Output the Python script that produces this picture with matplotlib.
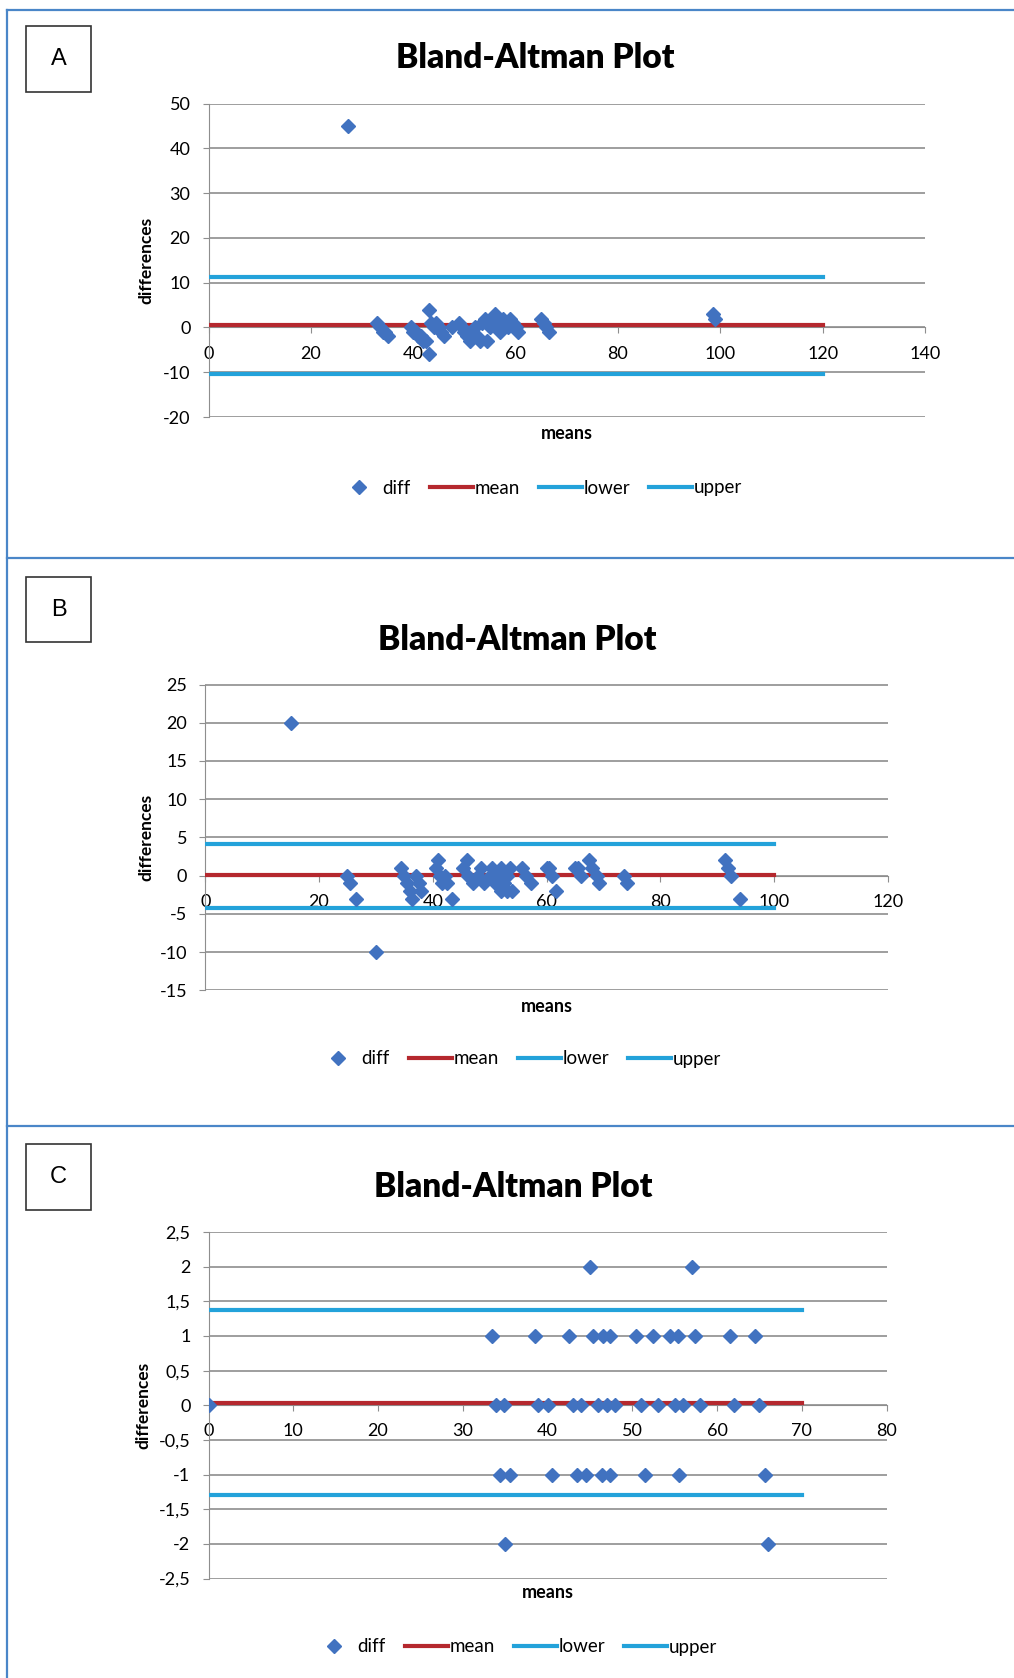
import matplotlib
matplotlib.use("Agg")
import matplotlib.pyplot as plt
from matplotlib.lines import Line2D
from matplotlib.patches import Rectangle
from matplotlib.ticker import FuncFormatter

plt.rcParams['font.family'] = ['Lato', 'DejaVu Sans']
plt.rcParams['axes.unicode_minus'] = False

W, H = 1014, 1678

#
# panel A data
A_means = [27.3,
           33.0, 33.5, 34.0, 34.5, 35.0,
           39.5, 40.0, 40.5, 41.0, 41.5, 42.0, 42.5, 43.0, 43.0, 43.5, 44.0, 44.5, 45.0, 45.5, 46.0,
           47.5, 49.0, 49.5, 50.0, 50.5, 51.0, 51.5, 52.0, 52.5, 53.0, 53.5, 54.0, 54.5, 55.0,
           55.5, 56.0, 56.5, 57.0, 57.5, 58.0, 58.5, 59.0, 59.5, 60.0, 60.5,
           65.0, 65.5, 66.0, 66.5,
           98.5, 99.0]
A_diffs = [45,
           1, 0, -1, -1, -2,
           0, -1, -1, -2, -2, -3, -3, -6, 4, 1, 0, 1, 0, -1, -2,
           0, 1, 0, -1, -2, -3, -1, 0, -2, -3, 1, 2, -3, 0,
           2, 3, 1, -1, 2, 1, 0, 2, 1, 0, -1,
           2, 1, 0, -1,
           3, 2]
A_mean, A_lower, A_upper = 0.5, -10.3, 11.3

#
# panel B data
B_means = [15, 25, 25.5, 26.5, 30,
           34.5, 35, 35.5, 36, 36.3, 37, 37.5, 38,
           40.5, 41, 41.3, 41.6, 42.2, 42.5, 43.4,
           45.4, 46, 46.2, 47, 48, 48.5, 49, 50, 50.5, 51, 51.5, 52, 52, 52.5, 53, 53, 53.5, 54,
           55.7, 56.4, 57.2, 60, 60.5, 61, 61.7,
           65, 65.5, 66, 67.5, 68, 68.8, 69.3, 73.6, 74.2,
           91.4, 92, 92.5, 94]
B_diffs = [20, 0, -1, -3, -10,
           1, 0, -1, -2, -3, 0, -1, -2,
           1, 2, 0, -1, 0, -1, -3,
           1, 2, 0, -1, 0, 1, -1, 0, 1, -1, 0, -2, 1, -1, 0, -2, 1, -2,
           1, 0, -1, 1, 1, 0, -2,
           1, 1, 0, 2, 1, 0, -1, 0, -1,
           2, 1, 0, -3]
B_mean, B_lower, B_upper = 0.05, -4.2, 4.15

#
# panel C data
C_means = [45, 57,
           33.4, 38.5, 42.5, 45.4, 46.5, 47.4, 50.4, 52.4, 54.4, 55.4, 57.4, 61.5, 64.5,
           0, 33.9, 34.9, 38.9, 40, 43, 44, 46, 47, 48, 51, 53, 55, 56, 58, 62, 65,
           34.4, 35.6, 40.5, 43.5, 44.5, 46.4, 47.4, 51.5, 55.5, 65.6,
           35, 66]
C_diffs = [2, 2,
           1, 1, 1, 1, 1, 1, 1, 1, 1, 1, 1, 1, 1,
           0, 0, 0, 0, 0, 0, 0, 0, 0, 0, 0, 0, 0, 0, 0, 0, 0,
           -1, -1, -1, -1, -1, -1, -1, -1, -1, -1,
           -2, -2]
C_mean, C_lower, C_upper = 0.03, -1.3, 1.38

legend_labels = ["diff", "mean", "lower", "upper"]

BLUE_PT = "#4172C0"
RED = "#B5282E"
LBLUE = "#23A2DA"
GRID = "#8E8E8E"
FRAME = "#4A86C8"


def px_rect(l, t, r, b):
    return [l / W, 1 - b / H, (r - l) / W, (b - t) / H]


def draw_panel(ax, means, diffs, mean, lower, upper, line_end,
               xmax, xstep, ymin, ymax, ystep, comma=False):
    ax.plot([0, line_end], [lower, lower], color=LBLUE, lw=3, zorder=3)
    ax.plot([0, line_end], [upper, upper], color=LBLUE, lw=3, zorder=3)
    ax.plot([0, line_end], [mean, mean], color=RED, lw=3, zorder=3)
    ax.plot(means, diffs, ls='none', marker='D', ms=7, color=BLUE_PT, zorder=4)

    ax.set_xlim(0, xmax)
    ax.set_ylim(ymin, ymax)
    ax.set_xticks(range(0, xmax + 1, xstep))
    yt = []
    v = ymin
    while v <= ymax + 1e-9:
        yt.append(round(v, 2))
        v += ystep
    ax.set_yticks(yt)
    if comma:
        ax.yaxis.set_major_formatter(FuncFormatter(
            lambda x, p: ('%g' % x).replace('.', ',')))

    ax.spines['top'].set_visible(False)
    ax.spines['right'].set_visible(False)
    ax.spines['bottom'].set_position(('data', 0))
    ax.spines['bottom'].set_color(GRID)
    ax.spines['left'].set_color(GRID)
    ax.yaxis.grid(True, color=GRID, lw=1.2)
    ax.set_axisbelow(True)
    ax.tick_params(axis='both', colors=GRID, labelcolor='black', labelsize=13,
                   direction='out', length=4)
    ax.tick_params(axis='x', pad=9)
    ax.tick_params(axis='y', pad=9)


fig = plt.figure(figsize=(W / 100, H / 100), dpi=100)

panels = [
    ("A", A_means, A_diffs, A_mean, A_lower, A_upper, 120, 140, 20, -20, 50, 10, False,
     (208.5, 103.7, 925, 417), (535, 58), (26, 26, 91, 92), 146.5, 433, (540, 488)),
    ("B", B_means, B_diffs, B_mean, B_lower, B_upper, 100, 120, 20, -15, 25, 5, False,
     (205.3, 684.5, 887.7, 990.4), (517, 640), (26, 577, 91, 642), 146.5, 1006, (519, 1059)),
    ("C", C_means, C_diffs, C_mean, C_lower, C_upper, 70, 80, 10, -2.5, 2.5, 0.5, True,
     (208.5, 1232, 886.6, 1578.6), (513, 1187), (26, 1144, 91, 1210), 143, 1593, (515, 1647)),
]

for (letter, means, diffs, mean, lower, upper, line_end, xmax, xstep, ymin, ymax, ystep, comma,
     rect, title_xy, box, ylab_x, xlab_y, leg_xy) in panels:
    ax = fig.add_axes(px_rect(*rect))
    draw_panel(ax, means, diffs, mean, lower, upper, line_end,
               xmax, xstep, ymin, ymax, ystep, comma)

    fig.text(title_xy[0] / W, 1 - title_xy[1] / H, "Bland-Altman Plot",
             ha='center', va='center', fontsize=24, fontweight='heavy')
    cx = (rect[0] + rect[2]) / 2
    cy = (rect[1] + rect[3]) / 2
    fig.text(cx / W, 1 - xlab_y / H, "means", ha='center', va='center',
             fontsize=13, fontweight='bold')
    fig.text(ylab_x / W, 1 - cy / H, "differences", ha='center', va='center',
             rotation=90, fontsize=12.5, fontweight='bold')

    # letter box
    fig.add_artist(Rectangle((box[0] / W, 1 - box[3] / H), (box[2] - box[0]) / W,
                             (box[3] - box[1]) / H, transform=fig.transFigure,
                             fill=False, ec='#333333', lw=1.2))
    fig.text((box[0] + box[2]) / 2 / W, 1 - (box[1] + box[3]) / 2 / H, letter,
             ha='center', va='center', fontsize=17, family='Liberation Sans')

    handles = [Line2D([], [], ls='none', marker='D', ms=7, color=BLUE_PT),
               Line2D([], [], color=RED, lw=3),
               Line2D([], [], color=LBLUE, lw=3),
               Line2D([], [], color=LBLUE, lw=3)]
    fig.legend(handles, legend_labels, loc='center',
               bbox_to_anchor=(leg_xy[0] / W, 1 - leg_xy[1] / H),
               ncol=4, frameon=False, fontsize=13.5, handlelength=2.3,
               handletextpad=0.1, columnspacing=1.0)

# panel frame lines
for y in [9.5, 558, 1126]:
    fig.add_artist(Line2D([6.5 / W, 1], [1 - y / H, 1 - y / H],
                          transform=fig.transFigure, color=FRAME, lw=1.6))
fig.add_artist(Line2D([6.5 / W, 6.5 / W], [1 - 9.5 / H, 0],
                      transform=fig.transFigure, color=FRAME, lw=1.6))

fig.savefig("out.png", dpi=100)
